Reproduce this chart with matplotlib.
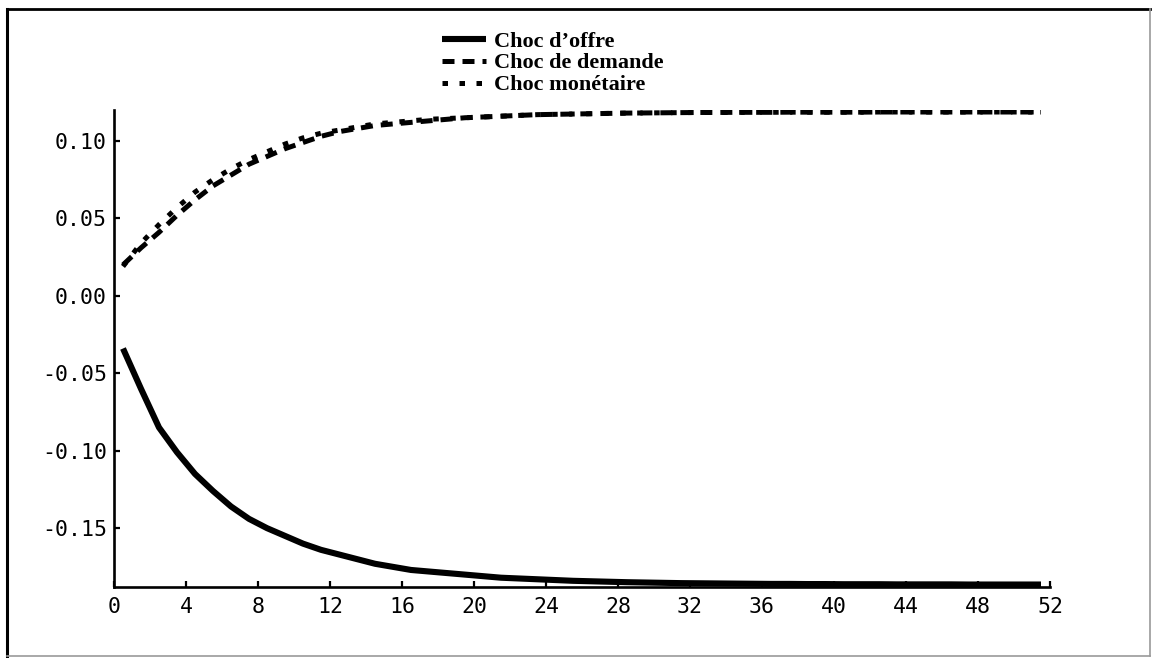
import matplotlib
matplotlib.use("Agg")
import matplotlib.pyplot as plt
from matplotlib.lines import Line2D
import numpy as np

plt.rcParams["axes.unicode_minus"] = False

# horizon (quarters), responses
periods = np.arange(0.5, 52.0, 1.0)

choc_offre = [
    -0.034, -0.060, -0.085, -0.101, -0.115, -0.126, -0.136, -0.144, -0.150, -0.155,
    -0.160, -0.164, -0.167, -0.170, -0.173, -0.175, -0.177, -0.178, -0.179, -0.180,
    -0.181, -0.182, -0.1825, -0.183, -0.1835, -0.184, -0.1843, -0.1846, -0.1849, -0.1851,
    -0.1853, -0.1855, -0.1856, -0.1857, -0.1858, -0.1859, -0.1860, -0.1860, -0.1861, -0.1861,
    -0.1862, -0.1862, -0.1862, -0.1863, -0.1863, -0.1863, -0.1863, -0.1864, -0.1864, -0.1864,
    -0.1864, -0.1864,
]
choc_demande = [
    0.020, 0.031, 0.041, 0.052, 0.062, 0.071, 0.078, 0.085, 0.090, 0.095,
    0.099, 0.103, 0.106, 0.108, 0.110, 0.111, 0.112, 0.113, 0.114, 0.115,
    0.1155, 0.116, 0.1165, 0.117, 0.1172, 0.1174, 0.1176, 0.1178, 0.1180, 0.1181,
    0.1182, 0.1183, 0.1184, 0.1184, 0.1185, 0.1185, 0.1185, 0.1186, 0.1186, 0.1186,
    0.1186, 0.1186, 0.1187, 0.1187, 0.1187, 0.1187, 0.1187, 0.1187, 0.1187, 0.1187,
    0.1187, 0.1187,
]
choc_monetaire = [
    0.019, 0.034, 0.046, 0.057, 0.067, 0.075, 0.082, 0.088, 0.093, 0.098,
    0.102, 0.105, 0.107, 0.109, 0.111, 0.112, 0.113, 0.114, 0.1145, 0.115,
    0.1155, 0.116, 0.1165, 0.117, 0.1172, 0.1174, 0.1176, 0.1178, 0.1180, 0.1181,
    0.1182, 0.1183, 0.1184, 0.1184, 0.1185, 0.1185, 0.1185, 0.1186, 0.1186, 0.1186,
    0.1186, 0.1186, 0.1187, 0.1187, 0.1187, 0.1187, 0.1187, 0.1187, 0.1187, 0.1187,
    0.1187, 0.1187,
]

series_labels = ["Choc d\u2019offre", "Choc de demande", "Choc mon\u00e9taire"]
x_ticks = list(range(0, 53, 4))
y_ticks = [-0.15, -0.10, -0.05, 0.00, 0.05, 0.10]

W, H = 1153, 658
fig = plt.figure(figsize=(W / 100, H / 100), dpi=100)
ax = fig.add_axes([114 / W, 1 - 587 / H, 936 / W, 477 / H])

ax.plot(periods, choc_offre, color="black", lw=4.4, solid_capstyle="butt",
        solid_joinstyle="round", label=series_labels[0])
ax.plot(periods, choc_demande, color="black", lw=3.6, dashes=(2.4, 1.6),
        dash_capstyle="butt", label=series_labels[1])
ax.plot(periods, choc_monetaire, color="black", lw=3.6, dashes=(1.1, 2.3),
        dash_capstyle="butt", label=series_labels[2])

ax.set_xlim(0, 52)
ax.set_ylim(-0.188, 0.12)
ax.set_xticks(x_ticks)
ax.set_yticks(y_ticks)
ax.set_yticklabels([f"{v:.2f}" for v in y_ticks])

for side in ("top", "right"):
    ax.spines[side].set_visible(False)
for side in ("left", "bottom"):
    ax.spines[side].set_linewidth(1.9)

ax.tick_params(axis="both", direction="in", length=4, width=1.6)
ax.tick_params(axis="x", pad=7)
ax.tick_params(axis="y", pad=5)
for lab in ax.get_xticklabels() + ax.get_yticklabels():
    lab.set_fontfamily("DejaVu Sans Mono")
    lab.set_fontsize(15.5)

ax.legend(loc="upper left", bbox_to_anchor=(442 / W, 1 - 31 / H),
          bbox_transform=fig.transFigure, frameon=False, borderpad=0,
          borderaxespad=0, handlelength=2.0, handletextpad=0.35,
          labelspacing=0.06,
          prop=dict(family="Liberation Serif", weight="bold", size=16))

# scanned page frame
fx0, fx1 = 7 / W, 1150 / W
fy0, fy1 = 1 - 656 / H, 1 - 9 / H
fig.add_artist(Line2D([fx0, fx0], [fy0, fy1], color="black", lw=2.2,
                      transform=fig.transFigure))
fig.add_artist(Line2D([fx0, fx1], [fy1, fy1], color="black", lw=2.0,
                      transform=fig.transFigure))
fig.add_artist(Line2D([fx1, fx1], [fy0, fy1], color="#9a9a9a", lw=1.2,
                      transform=fig.transFigure))
fig.add_artist(Line2D([fx0, fx1], [fy0, fy0], color="#9a9a9a", lw=1.2,
                      transform=fig.transFigure))

fig.savefig("out.png", dpi=100)
